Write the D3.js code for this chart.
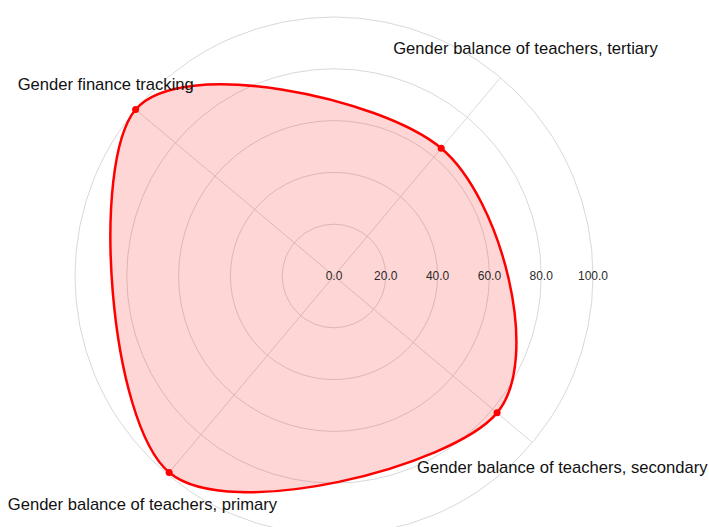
<!DOCTYPE html>
<html>
<head>
<meta charset="utf-8">
<script src="https://cdn.jsdelivr.net/npm/d3@7"></script>
<style>
	body { margin: 0; background: #fff; }
	svg { display: block; font-family: "Liberation Sans", Arial, sans-serif; }
</style>
</head>
<body>
<div id="chart"></div>
<script>
// categories in counter-clockwise order, starting from upper right
var categories = [
	"Gender balance of teachers, tertiary",
	"Gender finance tracking",
	"Gender balance of teachers, primary",
	"Gender balance of teachers, secondary"
];
var values = [64.4, 100, 99, 82.2];
var radialTicks = [0, 20, 40, 60, 80, 100];

var width = 709, height = 527;
var cx = 334, cy = 276, outer = 259;
var rotation = 50; // degrees, first category

var svg = d3.select("#chart").append("svg")
	.attr("width", width)
	.attr("height", height);

var rScale = d3.scaleLinear().domain([0, 100]).range([0, outer]);
var aScale = d3.scaleLinear().domain([0, categories.length]).range([rotation, rotation + 360]);

function px(i, r){ return cx + r * Math.cos(aScale(i) * Math.PI / 180); }
function py(i, r){ return cy - r * Math.sin(aScale(i) * Math.PI / 180); }

//Grid circles
svg.append("g").selectAll("circle")
	.data(radialTicks.filter(function(d){ return d > 0; }))
	.enter().append("circle")
	.attr("cx", cx)
	.attr("cy", cy)
	.attr("r", function(d){ return rScale(d); })
	.attr("fill", "none")
	.attr("stroke", "#d9d9d9")
	.attr("stroke-width", 1);

//Angular axis lines
svg.append("g").selectAll("line")
	.data(categories)
	.enter().append("line")
	.attr("x1", cx)
	.attr("y1", cy)
	.attr("x2", function(d, i){ return px(i, outer); })
	.attr("y2", function(d, i){ return py(i, outer); })
	.attr("stroke", "#d9d9d9")
	.attr("stroke-width", 1);

//Area
var pts = values.map(function(v, i){ return [px(i, rScale(v)), py(i, rScale(v))]; });
var line = d3.line().curve(d3.curveCardinalClosed.tension(0));

svg.append("path")
	.attr("d", line(pts))
	.attr("fill", "rgba(255,0,0,0.16)")
	.attr("stroke", "#ff0000")
	.attr("stroke-width", 2.5);

svg.append("g").selectAll("circle")
	.data(pts)
	.enter().append("circle")
	.attr("cx", function(d){ return d[0]; })
	.attr("cy", function(d){ return d[1]; })
	.attr("r", 3.5)
	.attr("fill", "#ff0000");

//Radial tick labels
svg.append("g").selectAll("text")
	.data(radialTicks)
	.enter().append("text")
	.attr("x", function(d){ return cx + rScale(d); })
	.attr("y", cy)
	.attr("dy", "0.35em")
	.attr("text-anchor", "middle")
	.attr("font-size", 12)
	.attr("fill", "#2a2a2a")
	.text(function(d){ return d3.format(".1f")(d); });

//Category labels
svg.append("g").selectAll("text")
	.data(categories)
	.enter().append("text")
	.attr("x", function(d, i){ return px(i, 298); })
	.attr("y", function(d, i){ return py(i, 298); })
	.attr("dy", "0.35em")
	.attr("text-anchor", "middle")
	.attr("font-size", 16.6)
	.attr("fill", "#111")
	.text(function(d){ return d; });
</script>
</body>
</html>
